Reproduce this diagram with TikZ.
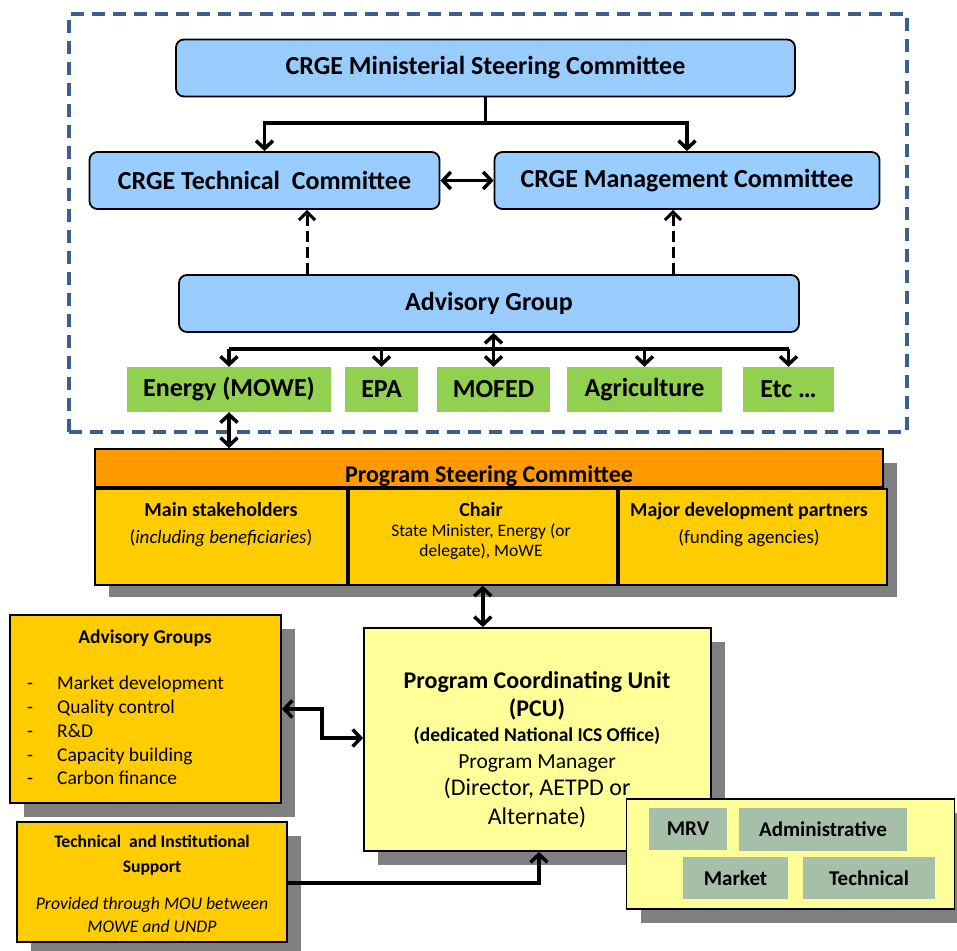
\documentclass[tikz,border=0pt]{standalone}
\usepackage{fontspec}
\setmainfont{Carlito}
\usetikzlibrary{arrows.meta,shadows}
\definecolor{cblue}{HTML}{99CCFF}
\definecolor{cgreen}{HTML}{92D050}
\definecolor{corange}{HTML}{FF9900}
\definecolor{cgold}{HTML}{FFCC00}
\definecolor{cpale}{HTML}{FFFF99}
\definecolor{cshadow}{HTML}{808080}
\definecolor{cframe}{HTML}{3D5F8F}
\definecolor{csage}{HTML}{A6BFA8}
\newcommand\fsz[1]{\fontsize{#1}{#1}\selectfont}
\begin{document}
\begin{tikzpicture}[x=1pt,y=-1pt,
  bluebox/.style={draw=black,line width=1.8pt,fill=cblue,rounded corners=8pt,inner sep=0pt,font=\fsz{26}\bfseries},
  greenbox/.style={fill=cgreen,inner sep=0pt,font=\fsz{26}\bfseries},
  sagebox/.style={fill=csage,inner sep=0pt,font=\fsz{21}\bfseries},
  plainbox/.style={draw=black,line width=1.8pt,inner sep=0pt},
  shad/.style={drop shadow={shadow xshift=14pt,shadow yshift=-14pt,fill=cshadow,opacity=1}},
  txt/.style={inner sep=0pt,anchor=base},
  conn/.style={line width=3.5pt,-{Straight Barb[length=8pt,width=17pt]}},
  dconn/.style={line width=3.5pt,{Straight Barb[length=8pt,width=17pt]}-{Straight Barb[length=8pt,width=17pt]}},
  dashconn/.style={line width=3pt,dash pattern=on 11pt off 5pt,-{Straight Barb[length=8pt,width=16pt]}},
]
\useasboundingbox (0,0) rectangle (957,950);

% dashed frame
\node[draw=cframe,line width=3.2pt,dash pattern=on 13pt off 8pt,minimum width=838,minimum height=418,inner sep=0] (frame) at (488,223) {};

% CRGE boxes
\node[bluebox,minimum width=619,minimum height=57] (msc) at (485.5,68) {CRGE Ministerial Steering Committee};
\node[bluebox,minimum width=350,minimum height=57] (tc) at (264.5,180.5) {CRGE Technical\ \ Committee};
\node[bluebox,minimum width=385,minimum height=57] (mc) at (687,180.5) {CRGE Management Committee};
\node[bluebox,minimum width=620,minimum height=57] (ag) at (489,303.5) {Advisory Group};

% green boxes
\node[greenbox,minimum width=204,minimum height=45] (energy) at (229,389.5) {Energy (MOWE)};
\node[greenbox,minimum width=73,minimum height=45] (epa) at (381.5,389.5) {EPA};
\node[greenbox,minimum width=113,minimum height=45] (mofed) at (493.5,389.5) {MOFED};
\node[greenbox,minimum width=155,minimum height=45] (agri) at (644.5,389.5) {Agriculture};
\node[greenbox,minimum width=91,minimum height=45] (etc) at (788.5,389.5) {Etc \dots};

\coordinate (b1) at (0,123);
\coordinate (b2) at (0,349);
\coordinate (x1) at (307,0);
\coordinate (x2) at (673,0);

\draw[conn] (msc.south) -- (msc.south |- b1) -| (tc.north);
\draw[conn] (msc.south |- b1) -| (mc.north);
\draw[dconn] (tc.east) -- (mc.west);
\draw[dashconn] (ag.north -| x1) -- (tc.south -| x1);
\draw[dashconn] (ag.north -| x2) -- (mc.south -| x2);

\draw[line width=3.5pt] (energy.north |- b2) -- (etc.north |- b2);
\draw[conn] (energy.north |- b2) -- (energy.north);
\draw[conn] (epa.north |- b2) -- (epa.north);
\draw[conn] (agri.north |- b2) -- (agri.north);
\draw[conn] (etc.north |- b2) -- (etc.north);
\draw[dconn] (mofed.north |- ag.south) -- (mofed.north);

% Program Steering Committee
\node[shad,plainbox,fill=cgold,minimum width=788,minimum height=134] (psc) at (489,516) {};
\node[plainbox,fill=corange,minimum width=788,minimum height=38,anchor=north] (psch) at (psc.north) {};
\node[plainbox,fill=cgold,minimum width=252,minimum height=96,anchor=north west] (c1) at (psch.south west) {};
\node[plainbox,fill=cgold,minimum width=268,minimum height=96,anchor=north west] (c2) at (c1.north east) {};
\node[plainbox,fill=cgold,minimum width=268,minimum height=96,anchor=north west] (c3) at (c2.north east) {};
\node[txt,font=\fsz{24}\bfseries] (psct) at (489,482) {Program Steering Committee};
\node[txt,font=\fsz{20}\bfseries] (c1a) at (221,516) {Main stakeholders};
\node[txt,font=\fsz{19}] (c1b) at (221,543) {(\textit{including beneficiaries})};
\node[txt,font=\fsz{20}\bfseries] (c2a) at (481,516) {Chair};
\node[txt,font=\fsz{17.5}] (c2b) at (481,536) {State Minister, Energy (or};
\node[txt,font=\fsz{17.5}] (c2c) at (481,556) {delegate), MoWE};
\node[txt,font=\fsz{19.8}\bfseries] (c3a) at (749,516) {Major development partners};
\node[txt,font=\fsz{19}] (c3b) at (749,543) {(funding agencies)};

\draw[dconn] (energy.south) -- (energy.south |- psc.north);

% Advisory Groups
\node[shad,plainbox,fill=cgold,minimum width=271,minimum height=188] (agb) at (145.5,709) {};
\node[txt,font=\fsz{19.5}\bfseries] (agt) at (145,643.5) {Advisory Groups};
\node[txt,font=\fsz{19.5},anchor=base west] (ag1) at (27,689.5) {\makebox[30pt][l]{-}Market development};
\node[txt,font=\fsz{19.5},anchor=base west] (ag2) at (27,713.5) {\makebox[30pt][l]{-}Quality control};
\node[txt,font=\fsz{19.5},anchor=base west] (ag3) at (27,737) {\makebox[30pt][l]{-}R\&D};
\node[txt,font=\fsz{19.5},anchor=base west] (ag4) at (27,761) {\makebox[30pt][l]{-}Capacity building};
\node[txt,font=\fsz{19.5},anchor=base west] (ag5) at (27,784) {\makebox[30pt][l]{-}Carbon finance};

% Technical and Institutional Support
\node[shad,plainbox,fill=cgold,minimum width=270,minimum height=120] (tis) at (152,882) {};
\node[txt,font=\fsz{17.6}\bfseries] (tis1) at (152,847) {Technical\ \ and Institutional};
\node[txt,font=\fsz{17.6}\bfseries] (tis2) at (152,872) {Support};
\node[txt,font=\fsz{17.7}\itshape] (tis3) at (152,909) {Provided through MOU between};
\node[txt,font=\fsz{17.7}\itshape] (tis4) at (152,932) {MOWE and UNDP};

% PCU
\node[shad,plainbox,fill=cpale,minimum width=347,minimum height=223] (pcu) at (537.5,739.5) {};
\node[txt,font=\fsz{24}\bfseries] (p1) at (537,688) {Program Coordinating Unit};
\node[txt,font=\fsz{24}\bfseries] (p2) at (537,716) {(PCU)};
\node[txt,font=\fsz{19.5}\bfseries] (p3) at (537,741.5) {(dedicated National ICS Office)};
\node[txt,font=\fsz{21.5}] (p4) at (537,768) {Program Manager};
\node[txt,font=\fsz{24}] (p5) at (537,795) {(Director, AETPD or};
\node[txt,font=\fsz{24}] (p6) at (537,824) {Alternate)};

\draw[dconn] (c2.south) -- (c2.south |- pcu.north);

\coordinate (k1) at (322,0);
\coordinate (k2) at (0,738);
\coordinate (k3) at (539,0);
\coordinate (k4) at (0,883);
\draw[dconn] (agb.east |- 0,709) -| (k1 |- k2) -- (pcu.west |- k2);
\draw[conn] (tis.east |- k4) -| (k3 |- pcu.south);

% Units box
\node[shad,plainbox,fill=cpale,minimum width=328,minimum height=110] (units) at (790.5,854) {};
\node[sagebox,minimum width=78,minimum height=42] (mrv) at (688,829) {MRV};
\node[sagebox,minimum width=168,minimum height=43] (adm) at (823,829.5) {Administrative};
\node[sagebox,minimum width=105,minimum height=42] (mkt) at (735.5,878) {Market};
\node[sagebox,minimum width=132,minimum height=42] (tec) at (869,878) {Technical};
\end{tikzpicture}
\end{document}
